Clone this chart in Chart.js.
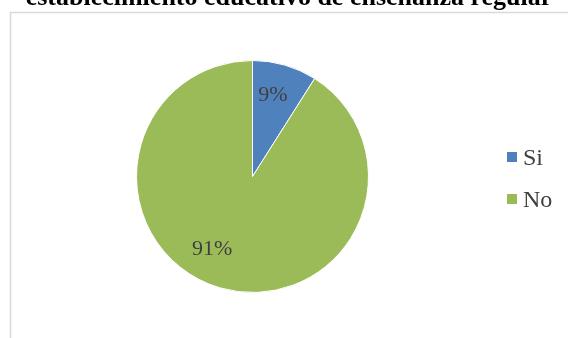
<!DOCTYPE html>
<html>
<head>
<meta charset="utf-8">
<script src="https://cdn.jsdelivr.net/npm/chart.js@4/dist/chart.umd.min.js"></script>
<style>
  html, body { margin: 0; padding: 0; background: #fff; }
  #wrap { width: 568px; height: 338px; }
  .preload { font-family: "Liberation Serif"; position: absolute; left: -999px; }
</style>
</head>
<body>
<span class="preload">Si No 9% <b>regular</b></span>
<div id="wrap"><canvas id="pie" width="568" height="338"></canvas></div>
<script>
// Respuestas
const categories = ['Si', 'No'];
const percents = [9, 91];
const colors = ['#4f81bd', '#9bbb59'];
const titleLine = 'establecimiento educativo de enseñanza regular';

// small angular nudges (degrees) for the value labels, Excel-style placement
const labelShiftDeg = [-2, 12.7];

const serif = '"Liberation Serif", "Times New Roman", Times, serif';
const textColor = '#404040';

// frame + clipped title line
const frame = {
    id: 'frame',
    beforeDraw(chart) {
        const ctx = chart.ctx;
        ctx.save();
        ctx.strokeStyle = '#d9d9d9';
        ctx.lineWidth = 1.5;
        ctx.beginPath();
        ctx.moveTo(10.5, 338);
        ctx.lineTo(10.5, 12.5);
        ctx.lineTo(568, 12.5);
        ctx.stroke();

        ctx.fillStyle = '#000';
        ctx.font = 'bold 26px ' + serif;
        ctx.textAlign = 'center';
        ctx.textBaseline = 'alphabetic';
        ctx.fillText(titleLine, 289, 5);
        ctx.restore();
    }
};

// percentage labels inside slices
const sliceLabels = {
    id: 'sliceLabels',
    afterDatasetsDraw(chart) {
        const ctx = chart.ctx;
        const meta = chart.getDatasetMeta(0);
        ctx.save();
        ctx.fillStyle = textColor;
        ctx.font = '22px ' + serif;
        ctx.textAlign = 'center';
        ctx.textBaseline = 'middle';
        meta.data.forEach((arc, i) => {
            const p = arc.getProps(['x', 'y', 'startAngle', 'endAngle', 'outerRadius'], true);
            const a = (p.startAngle + p.endAngle) / 2 + labelShiftDeg[i] * Math.PI / 180;
            const r = p.outerRadius * 0.72;
            ctx.fillText(percents[i] + '%', p.x + Math.cos(a) * r, p.y + Math.sin(a) * r);
        });
        ctx.restore();
    }
};

// legend on the right
const sideLegend = {
    id: 'sideLegend',
    afterDraw(chart) {
        const ctx = chart.ctx;
        ctx.save();
        ctx.font = '24px ' + serif;
        ctx.textBaseline = 'alphabetic';
        ctx.textAlign = 'left';
        categories.forEach((c, i) => {
            const y = 165 + i * 42;
            ctx.fillStyle = colors[i];
            ctx.fillRect(507, y - 13, 10, 10);
            ctx.fillStyle = textColor;
            ctx.fillText(c, 523, y);
        });
        ctx.restore();
    }
};

function drawChart() {
    new Chart(document.getElementById('pie'), {
        type: 'pie',
        data: {
            labels: categories,
            datasets: [{
                data: percents,
                backgroundColor: colors,
                borderColor: '#ffffff',
                borderWidth: 1
            }]
        },
        options: {
            responsive: false,
            animation: false,
            layout: { padding: { left: 136, right: 199, top: 60, bottom: 45 } },
            plugins: {
                legend: { display: false },
                tooltip: { enabled: false },
                title: { display: false }
            }
        },
        plugins: [frame, sliceLabels, sideLegend]
    });
}

Promise.all([
    document.fonts.load('24px "Liberation Serif"'),
    document.fonts.load('bold 26px "Liberation Serif"')
]).then(drawChart, drawChart);
</script>
</body>
</html>
